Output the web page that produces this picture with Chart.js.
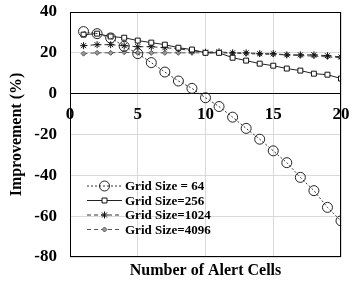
<!DOCTYPE html>
<html>
<head>
<meta charset="utf-8">
<script src="https://cdn.jsdelivr.net/npm/chart.js@4/dist/chart.umd.min.js"></script>
<style>
  html, body { margin: 0; padding: 0; background: #fff; }
  #wrap { width: 358px; height: 286px; }
</style>
</head>
<body>
<div id="wrap"><canvas id="myChart" width="358" height="286"></canvas></div>
<script>
// number of alert cells
const alertCells = [1, 2, 3, 4, 5, 6, 7, 8, 9, 10, 11, 12, 13, 14, 15, 16, 17, 18, 19, 20]
// improvement (%) per grid size
const grid64 = [30.4, 29.4, 27.3, 23.2, 19.6, 15.2, 10.6, 6.2, 2.6, -2, -6.3, -11.5, -17, -22.3, -28, -33.8, -41, -47.5, -55.7, -62.3]
const grid256 = [28.9, 29.4, 28, 27.4, 26, 25, 24, 22.5, 21.6, 20, 20, 17.6, 16.2, 14.7, 13.7, 12.3, 11.3, 9.8, 9.3, 7.4]
const grid1024 = [23.5, 24, 24, 23.5, 23, 23, 22.5, 22, 21, 20.3, 20.5, 20, 20, 19.6, 19.6, 19, 19, 19, 18.6, 18]
const grid4096 = [19.6, 20, 20, 20.3, 20, 20, 20, 20, 20, 20, 20, 19.8, 19.6, 19.4, 19.2, 19, 18.6, 18.4, 18, 17.5]
const seriesNames = ['Grid Size = 64', 'Grid Size=256', 'Grid Size=1024', 'Grid Size=4096']
const xTicks = [0, 5, 10, 15, 20]
const yTicks = [-80, -60, -40, -20, 0, 20, 40]

const serif = 'Liberation Serif, Times New Roman, serif'

const toPoints = (vals) => vals.map((v, i) => ({ x: alertCells[i], y: v }))

// drop the label overflow padding so the plot box sits where the layout padding says
const noPad = (s) => { s.paddingTop = 0; s.paddingBottom = 0; s.paddingLeft = 0; s.paddingRight = 0 }

// legend drawn inside the plot, plus the black frame
const boxLegend = {
    id: 'boxLegend',
    afterDraw(chart) {
        const ctx = chart.ctx
        const a = chart.chartArea
        ctx.save()
        ctx.strokeStyle = '#000'
        ctx.lineWidth = 1
        ctx.setLineDash([])
        ctx.strokeRect(a.left + 0.5, a.top + 0.5, a.right - a.left - 1, a.bottom - a.top - 1)

        const x0 = a.left + 17
        const y0 = a.bottom - 71
        chart.data.datasets.forEach((ds, i) => {
            const y = y0 + i * 14.5
            ctx.strokeStyle = ds.borderColor
            ctx.lineWidth = ds.borderWidth
            ctx.setLineDash(ds.borderDash || [])
            ctx.beginPath()
            ctx.moveTo(x0, y)
            ctx.lineTo(x0 + 35, y)
            ctx.stroke()
            ctx.setLineDash([])
            ctx.fillStyle = ds.pointBackgroundColor
            ctx.strokeStyle = ds.pointBorderColor
            ctx.lineWidth = 1
            Chart.helpers.drawPoint(ctx, {
                pointStyle: ds.pointStyle,
                radius: ds.pointRadius,
                borderWidth: 1,
                rotation: 0
            }, x0 + 17.5, y)
            ctx.fillStyle = '#000'
            ctx.font = 'bold 13px ' + serif
            ctx.textBaseline = 'middle'
            ctx.fillText(ds.label, x0 + 38, y + 1)
        })
        ctx.restore()
    }
}

function renderChart() {
    const grafica = document.querySelector('#myChart')
    const data = {
        datasets: [{
            label: seriesNames[0],
            data: toPoints(grid64),
            borderColor: '#333',
            borderWidth: 1,
            borderDash: [2, 2],
            pointStyle: 'circle',
            pointRadius: 5,
            pointBackgroundColor: 'rgba(255,255,255,0)',
            pointBorderColor: '#222'
        }, {
            label: seriesNames[1],
            data: toPoints(grid256),
            borderColor: '#222',
            borderWidth: 1,
            borderDash: [],
            pointStyle: 'rect',
            pointRadius: 3.5,
            pointBackgroundColor: '#fff',
            pointBorderColor: '#111'
        }, {
            label: seriesNames[2],
            data: toPoints(grid1024),
            borderColor: '#333',
            borderWidth: 1,
            borderDash: [4, 3],
            pointStyle: 'star',
            pointRadius: 3.5,
            pointBackgroundColor: '#fff',
            pointBorderColor: '#111'
        }, {
            label: seriesNames[3],
            data: toPoints(grid4096),
            borderColor: '#555',
            borderWidth: 1,
            borderDash: [4, 3],
            pointStyle: 'rectRot',
            pointRadius: 2.5,
            pointBackgroundColor: '#999',
            pointBorderColor: '#555'
        }]
    }
    const tickFont = { family: serif, size: 17, weight: 'bold' }
    const config = {
        type: 'line',
        data: data,
        options: {
            responsive: false,
            animation: false,
            layout: { padding: { top: 12, right: 17, left: 0, bottom: 0 } },
            plugins: { legend: { display: false }, tooltip: { enabled: false } },
            elements: { line: { tension: 0 }, point: { borderWidth: 1 } },
            scales: {
                x: {
                    type: 'linear',
                    min: 0, max: 20,
                    afterBuildTicks: (s) => { s.ticks = xTicks.map(v => ({ value: v })) },
                    ticks: { display: false },
                    grid: { color: '#d9d9d9', drawTicks: false },
                    border: { display: false },
                    title: {
                        display: true, text: 'Number of Alert Cells', color: '#000',
                        font: { family: serif, size: 16, weight: 'bold' },
                        padding: { top: 0, bottom: 6 }
                    },
                    afterFit: (s) => { s.height = 29; noPad(s) }
                },
                x0: {
                    type: 'linear',
                    axis: 'x',
                    position: { y: 0 },
                    min: 0, max: 20,
                    afterBuildTicks: (s) => { s.ticks = xTicks.map(v => ({ value: v })) },
                    ticks: { color: '#000', font: tickFont, padding: 11 },
                    grid: { display: false, drawTicks: false },
                    border: { display: false },
                    afterFit: noPad
                },
                y: {
                    min: -80, max: 40,
                    afterBuildTicks: (s) => { s.ticks = yTicks.map(v => ({ value: v })) },
                    ticks: { color: '#000', font: tickFont, padding: 13 },
                    grid: {
                        drawTicks: false,
                        color: (c) => c.tick && c.tick.value === 0 ? '#000' : '#d9d9d9'
                    },
                    border: { display: false },
                    title: {
                        display: true, text: 'Improvement (%)', color: '#000',
                        font: { family: serif, size: 16, weight: 'bold' },
                        padding: { top: 7, bottom: 4 }
                    },
                    afterFit: (s) => { s.width = 70; noPad(s) }
                }
            }
        },
        plugins: [boxLegend]
    }
    const myChart = new Chart(grafica, config)
}

document.addEventListener('DOMContentLoaded', (event) => {
    renderChart()
})
</script>
</body>
</html>
